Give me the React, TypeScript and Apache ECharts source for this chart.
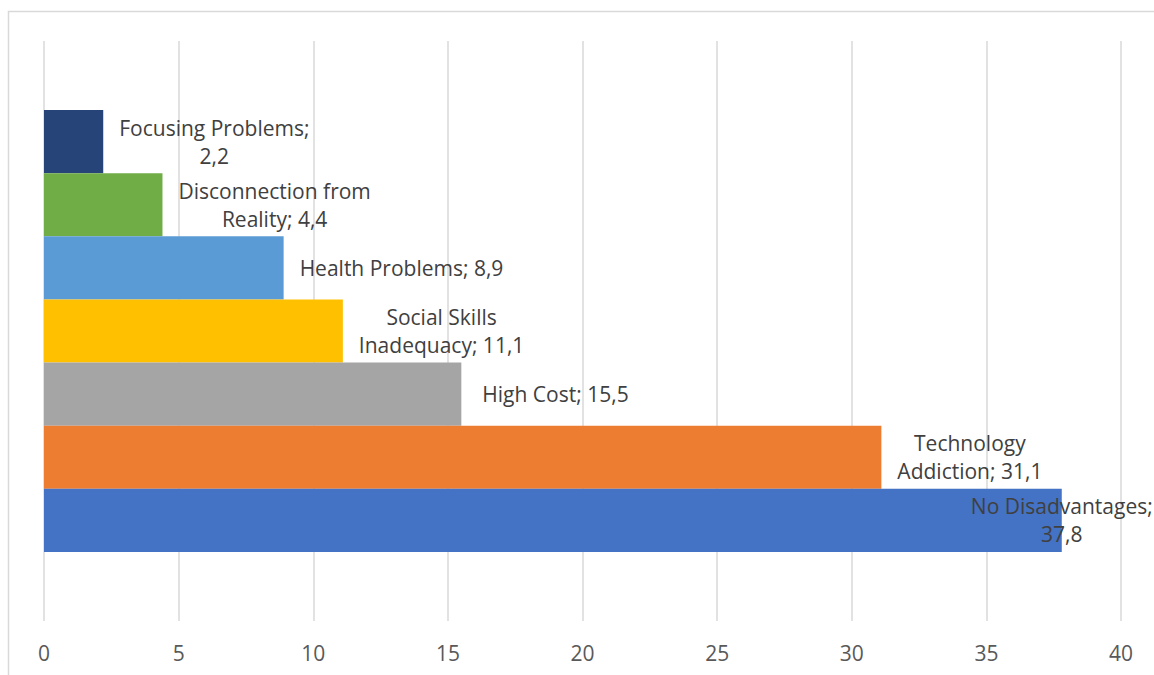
import React, { useEffect, useRef } from "react";
import * as echarts from "echarts";

// Excel order: first series drawn at the bottom
const categories = [
  "No Disadvantages",
  "Technology Addiction",
  "High Cost",
  "Social Skills Inadequacy",
  "Health Problems",
  "Disconnection from Reality",
  "Focusing Problems",
];
const values = [37.8, 31.1, 15.5, 11.1, 8.9, 4.4, 2.2];
const colors = ["#4472C4", "#ED7D31", "#A5A5A5", "#FFC000", "#5B9BD5", "#70AD47", "#264478"];
// number of words on the first label line (0 = single line)
const firstLineWords = [2, 1, 0, 2, 0, 2, 2];
const xTicks = { min: 0, max: 40, interval: 5 };

function labelText(i: number): string {
  const full = `${categories[i]}; ${values[i].toFixed(1).replace(".", ",")}`;
  const n = firstLineWords[i];
  if (!n) return `{c|${full}}`;
  const words = full.split(" ");
  return `{c|${words.slice(0, n).join(" ")}}\n{c|${words.slice(n).join(" ")}}`;
}

export default function App() {
  const ref = useRef<HTMLDivElement>(null);
  useEffect(() => {
    if (!ref.current) return;
    const chart = echarts.init(ref.current, null, { renderer: "svg" });
    const font = "'Open Sans', sans-serif";
    const series = categories.map((name, i) => {
      const isLast = i === 0;
      return {
        type: "bar",
        name,
        data: [values[i]],
        barGap: "0%",
        barCategoryGap: "23.8%",
        itemStyle: { color: colors[i] },
        label: {
          show: true,
          position: "right",
          distance: isLast ? 0 : name === "High Cost" ? 21 : 16,
          align: isLast ? "center" : "left",
          formatter: () => labelText(i),
          rich: {
            c: {
              align: "center",
              color: "#404040",
              fontSize: 21,
              fontFamily: font,
              lineHeight: 28,
            },
          },
        },
      };
    });
    // ECharts places the first series on top for horizontal bars; reverse so first is at bottom
    series.reverse();
    chart.setOption({
      animation: false,
      backgroundColor: "#ffffff",
      grid: { left: 44, right: 33, top: 41, bottom: 54 },
      xAxis: {
        type: "value",
        min: xTicks.min,
        max: xTicks.max,
        interval: xTicks.interval,
        axisLine: { show: false },
        axisTick: { show: false },
        splitLine: { show: true, lineStyle: { color: "#D9D9D9", width: 1.5 } },
        axisLabel: { color: "#595959", fontSize: 21, fontFamily: font, margin: 21 },
      },
      yAxis: {
        type: "category",
        data: [""],
        axisLine: { show: false },
        axisTick: { show: false },
        axisLabel: { show: false },
      },
      graphic: [
        {
          type: "rect",
          shape: { x: 8.5, y: 11.5, width: 1170, height: 700 },
          style: { fill: "none", stroke: "#D9D9D9", lineWidth: 1.5 },
          silent: true,
        },
      ],
      series,
    });
    return () => chart.dispose();
  }, []);
  return (
    <div
      ref={ref}
      style={{ position: "absolute", left: 0, top: 0, width: 1154, height: 675, background: "#fff" }}
    />
  );
}
